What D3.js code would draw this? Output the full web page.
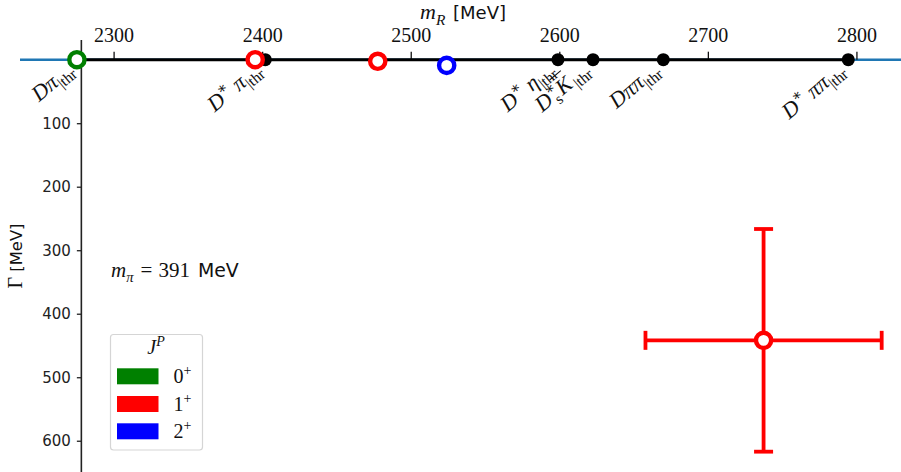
<!DOCTYPE html>
<html>
<head>
<meta charset="utf-8">
<script src="https://cdn.jsdelivr.net/npm/d3@7"></script>
<style>
  html, body { margin: 0; padding: 0; background: #fff; }
  body { position: relative; width: 901px; height: 472px; overflow: hidden; }
  svg { display: block; position: absolute; left: 0; top: 0; }
  .math { font-family: "Liberation Serif", "DejaVu Serif", serif; }
  .sans { font-family: "DejaVu Sans", sans-serif; }
  .thr-anchor { position: absolute; width: 0; height: 0; transform-origin: 0 0; transform: rotate(-40deg); }
  .thr-label { position: absolute; right: 0; bottom: -3.6px; white-space: nowrap;
               font-family: "Liberation Serif", "DejaVu Serif", serif; font-size: 22px; line-height: 22px; color: #111; }
  .thr-label i { font-style: italic; }
  .thr-label .sub { position: relative; top: 5.5px; font-size: 15.4px; line-height: 0; }
  .thr-label .sup { position: relative; top: -8.8px; font-size: 15.4px; line-height: 0; }
  .thr-label .bar { text-decoration: overline; text-decoration-thickness: 1px; }
</style>
</head>
<body>
<svg id="chart" width="901" height="472"></svg>
<script>
// Pole positions (mass and width in MeV) and their J^P
const poleMass   = [2275.3, 2395.3, 2477.8, 2524.2, 2737.5];
const poleWidth  = [0, 0, 2.5, 9, 441.9];
const poleJP     = ["0+", "1+", "1+", "2+", "1+"];
const poleMassErr  = [0, 0, 0, 0, 79.5];
const poleWidthErr = [0, 0, 0, 0, 175.3];

// Two-/three-hadron thresholds (MeV)
const thrNames = ["Dpi", "Dstarpi", "Dstareta", "DsstarKbar", "Dpipi", "Dstarpipi"];
const thrMass  = [2275.3, 2402.1, 2599.1, 2622.7, 2670.0, 2794.5];

const xTicks = [2300, 2400, 2500, 2600, 2700, 2800];
const yTicks = [100, 200, 300, 400, 500, 600];

const jpKeys   = ["0+", "1+", "2+"];
const jpColors = ["#008000", "#ff0000", "#0000ff"];

const svg = d3.select("#chart");
const x = d3.scaleLinear().domain([2237, 2830]).range([20, 901]);
const y = d3.scaleLinear().domain([-31, 650]).range([40, 472.5]);
const color = d3.scaleOrdinal().domain(jpKeys).range(jpColors);
const spineMass = 2278.3;
const x0 = x(spineMass);

// rich text with tspans (horizontal text only): segments of {t, it, sub, sup, sans, scale, dx}
function rich(sel, segs, size) {
  let shift = 0;
  segs.forEach(s => {
    const ts = sel.append("tspan").text(s.t);
    let fs = size, target = 0;
    if (s.sub) { fs = size * 0.7; target = size * 0.25; }
    if (s.sup) { fs = size * 0.7; target = -size * 0.4; }
    ts.attr("font-size", fs);
    if (s.it) ts.attr("font-style", "italic");
    if (s.sans) ts.attr("font-family", "DejaVu Sans, sans-serif").attr("font-size", size * (s.scale || 1));
    if (target !== shift) { ts.attr("dy", target - shift); shift = target; }
    if (s.dx) ts.attr("dx", s.dx);
  });
}

// horizontal real axis (Gamma = 0)
svg.append("line")
  .attr("x1", x(2237)).attr("x2", x(2830))
  .attr("y1", y(0)).attr("y2", y(0))
  .attr("stroke", "#1f77b4").attr("stroke-width", 2.6);

// x ticks on top
const xAxis = svg.append("g").attr("transform", `translate(0,${y(0)})`)
  .call(d3.axisTop(x).tickValues(xTicks).tickSize(8).tickPadding(10).tickFormat(d3.format("d")));
xAxis.select(".domain").remove();
xAxis.selectAll(".tick line").attr("stroke", "#111").attr("stroke-width", 1.3);
xAxis.selectAll(".tick text").attr("class", "math").attr("font-size", 20).attr("fill", "#111");

// threshold range line
svg.append("line")
  .attr("x1", x(d3.min(thrMass))).attr("x2", x(d3.max(thrMass)))
  .attr("y1", y(0)).attr("y2", y(0))
  .attr("stroke", "#000").attr("stroke-width", 3);

// y axis (spine placed in data coordinates)
const yAxis = svg.append("g").attr("transform", `translate(${x0},0)`)
  .call(d3.axisLeft(y).tickValues(yTicks).tickSize(4.5).tickPadding(6).tickFormat(d3.format("d")));
yAxis.select(".domain").remove();
yAxis.selectAll(".tick line").attr("stroke", "#222").attr("stroke-width", 1.3);
yAxis.selectAll(".tick text").attr("class", "sans").attr("font-size", 15).attr("fill", "#222");
svg.append("line").attr("x1", x0).attr("x2", x0).attr("y1", 40).attr("y2", 472)
  .attr("stroke", "#222").attr("stroke-width", 1.6);

// threshold dots
svg.selectAll("circle.thr").data(thrMass).join("circle")
  .attr("class", "thr")
  .attr("cx", d => x(d)).attr("cy", y(0)).attr("r", 6.5).attr("fill", "#000");

// threshold labels: rotated HTML blocks, right end anchored below each threshold
const thrLabels = {
  Dpi:        '<i>D</i><i>π</i><span class="sub">|thr</span>',
  Dstarpi:    '<i>D</i><span class="sup">∗</span> <i>π</i><span class="sub">|thr</span>',
  Dstareta:   '<i>D</i><span class="sup">∗</span> <i>η</i><span class="sub">|thr</span>',
  DsstarKbar: '<i>D</i><span class="sup">∗</span><span class="sub" style="margin-left:-7.7px">s</span>' +
              '<i class="bar" style="margin-left:2px">K</i><span class="sub" style="margin-left:2px">|thr</span>',
  Dpipi:      '<i>D</i><i>ππ</i><span class="sub">|thr</span>',
  Dstarpipi:  '<i>D</i><span class="sup">∗</span> <i>ππ</i><span class="sub">|thr</span>'
};
d3.select("body").selectAll("div.thr-anchor").data(thrNames).join("div")
  .attr("class", "thr-anchor")
  .style("left", (d, i) => `${x(thrMass[i]) - 2}px`)
  .style("top", `${y(0) + 12}px`)
  .append("div").attr("class", "thr-label")
  .html(d => thrLabels[d]);

// error bars
const errIdx = d3.range(poleMass.length).filter(i => poleMassErr[i] > 0 || poleWidthErr[i] > 0);
errIdx.forEach(i => {
  const c = color(poleJP[i]);
  const g = svg.append("g").attr("stroke", c).attr("stroke-width", 3.8);
  const cx = x(poleMass[i]), cy = y(poleWidth[i]);
  const xl = x(poleMass[i] - poleMassErr[i]), xr = x(poleMass[i] + poleMassErr[i]);
  const yt = y(poleWidth[i] - poleWidthErr[i]), yb = y(poleWidth[i] + poleWidthErr[i]);
  const cap = 9.5;
  g.append("line").attr("x1", xl).attr("x2", xr).attr("y1", cy).attr("y2", cy);
  g.append("line").attr("x1", cx).attr("x2", cx).attr("y1", yt).attr("y2", yb);
  g.append("line").attr("x1", xl).attr("x2", xl).attr("y1", cy - cap).attr("y2", cy + cap);
  g.append("line").attr("x1", xr).attr("x2", xr).attr("y1", cy - cap).attr("y2", cy + cap);
  g.append("line").attr("x1", cx - cap).attr("x2", cx + cap).attr("y1", yt).attr("y2", yt);
  g.append("line").attr("x1", cx - cap).attr("x2", cx + cap).attr("y1", yb).attr("y2", yb);
});

// poles
svg.selectAll("circle.pole").data(d3.range(poleMass.length)).join("circle")
  .attr("class", "pole")
  .attr("cx", i => x(poleMass[i])).attr("cy", i => y(poleWidth[i]))
  .attr("r", 7.6).attr("fill", "#fff")
  .attr("stroke", i => color(poleJP[i])).attr("stroke-width", 4.4);

// axis titles
const xt = svg.append("text").attr("class", "math").attr("x", 420).attr("y", 19).attr("fill", "#111");
rich(xt, [{t:"m", it:1}, {t:"R", it:1, sub:1}, {t:" [MeV]", sans:1, scale:0.82, dx:2}], 22);

const ytg = svg.append("g").attr("transform", "translate(22,256) rotate(-90)");
const yt = ytg.append("text").attr("class", "math").attr("text-anchor", "middle").attr("fill", "#111");
yt.append("tspan").attr("font-size", 20).text("Γ");
yt.append("tspan").attr("font-family", "DejaVu Sans, sans-serif").attr("font-size", 16.4).text(" [MeV]");

// pion-mass annotation
const ann = svg.append("text").attr("class", "math").attr("x", 111).attr("y", 277).attr("fill", "#111");
rich(ann, [{t:"m", it:1}, {t:"π", it:1, sub:1}, {t:"=", dx:7}, {t:"391", dx:6}, {t:"MeV", sans:1, scale:0.9, dx:8}], 21);

// legend
const lg = svg.append("g");
lg.append("rect").attr("x", 110.5).attr("y", 334.5).attr("width", 92).attr("height", 115.5)
  .attr("rx", 3).attr("fill", "#fff").attr("stroke", "#d5d5d5").attr("stroke-width", 1.2);
const lt = lg.append("text").attr("class", "math").attr("x", 156).attr("y", 354)
  .attr("text-anchor", "middle").attr("fill", "#111");
rich(lt, [{t:"J", it:1}, {t:"P", it:1, sup:1}], 20);
const rowY = [368.3, 396, 423.3];
jpKeys.forEach((k, i) => {
  lg.append("rect").attr("x", 117).attr("y", rowY[i]).attr("width", 41.5).attr("height", 16)
    .attr("fill", color(k));
  const tt = lg.append("text").attr("class", "math").attr("x", 173.5).attr("y", rowY[i] + 15)
    .attr("fill", "#111");
  rich(tt, [{t:k[0]}, {t:"+", sup:1}], 20);
});
</script>
</body>
</html>
